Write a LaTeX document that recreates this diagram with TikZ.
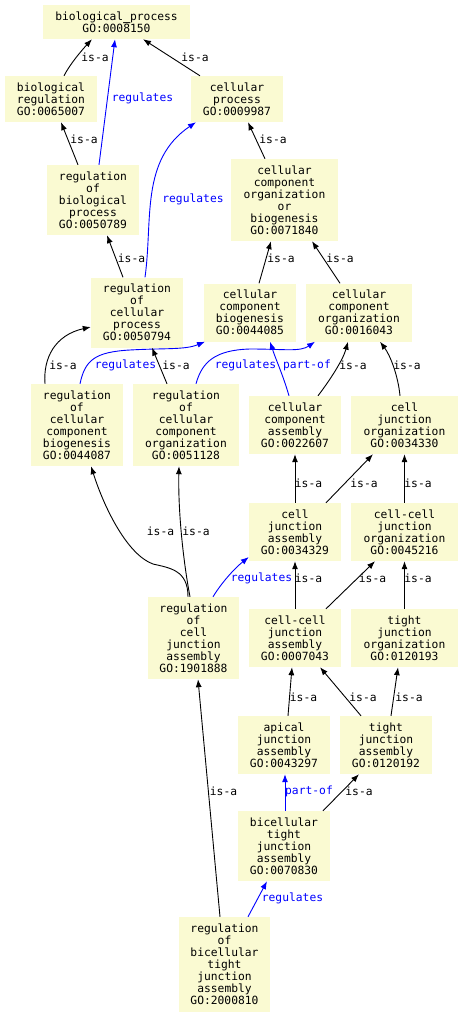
\documentclass[tikz,border=0pt]{standalone}
\usepackage{fontspec}
\newfontfamily\dvm{DejaVu Sans Mono}
\newfontfamily\dvmheavy[FakeBold=3]{DejaVu Sans Mono}
\usetikzlibrary{arrows.meta}
\definecolor{boxfill}{HTML}{FAFAD2}
\definecolor{regblue}{RGB}{0,0,255}
\tikzset{
  gobox/.style={fill=boxfill, inner sep=0pt, align=center, font=\dvm\fontsize{11.3}{12}\selectfont},
  isa/.style={draw=black, line width=0.9pt, -{Latex[length=8pt,width=6pt]}},
  regl/.style={draw=regblue, line width=0.9pt, -{Latex[length=8pt,width=6pt]}},
  lbl/.style={font=\dvm\fontsize{11.3}{12}\selectfont, inner sep=0pt},
  bluelbl/.style={lbl, text=regblue}
}
\begin{document}
\begin{tikzpicture}[x=1pt,y=-1pt]
\useasboundingbox (0,0) rectangle (463,1017);
\fill[white] (0,0) rectangle (463,1017);
% nodes
\node[gobox, minimum width=147pt, minimum height=34pt] (bp) at (116.5,22) {biological{\dvmheavy\symbol{"5F}}process\\GO:0008150};
\node[gobox, minimum width=92pt, minimum height=46pt] (bioreg) at (51,99) {biological\\regulation\\GO:0065007};
\node[gobox, minimum width=92pt, minimum height=46pt] (cellproc) at (237,99) {cellular\\process\\GO:0009987};
\node[gobox, minimum width=92pt, minimum height=70pt] (regbp) at (93,200) {regulation\\of\\biological\\process\\GO:0050789};
\node[gobox, minimum width=107pt, minimum height=82pt] (ccoob) at (284.5,200) {cellular\\component\\organization\\or\\biogenesis\\GO:0071840};
\node[gobox, minimum width=92pt, minimum height=70pt] (regcp) at (137,312.5) {regulation\\of\\cellular\\process\\GO:0050794};
\node[gobox, minimum width=92pt, minimum height=58pt] (ccb) at (250,312.5) {cellular\\component\\biogenesis\\GO:0044085};
\node[gobox, minimum width=106pt, minimum height=58pt] (cco) at (359,312.5) {cellular\\component\\organization\\GO:0016043};
\node[gobox, minimum width=92pt, minimum height=82pt] (regccb) at (77,425) {regulation\\of\\cellular\\component\\biogenesis\\GO:0044087};
\node[gobox, minimum width=106pt, minimum height=82pt] (regcco) at (186,425) {regulation\\of\\cellular\\component\\organization\\GO:0051128};
\node[gobox, minimum width=92pt, minimum height=58pt] (cca) at (295,425) {cellular\\component\\assembly\\GO:0022607};
\node[gobox, minimum width=107pt, minimum height=58pt] (cjo) at (404.5,425) {cell\\junction\\organization\\GO:0034330};
\node[gobox, minimum width=92pt, minimum height=58pt] (cja) at (295,532) {cell\\junction\\assembly\\GO:0034329};
\node[gobox, minimum width=107pt, minimum height=58pt] (ccjo) at (404.5,532) {cell-cell\\junction\\organization\\GO:0045216};
\node[gobox, minimum width=91pt, minimum height=82pt] (regcja) at (193.5,638) {regulation\\of\\cell\\junction\\assembly\\GO:1901888};
\node[gobox, minimum width=92pt, minimum height=58pt] (ccja) at (295,638) {cell-cell\\junction\\assembly\\GO:0007043};
\node[gobox, minimum width=107pt, minimum height=58pt] (tjo) at (404.5,638) {tight\\junction\\organization\\GO:0120193};
\node[gobox, minimum width=92pt, minimum height=58pt] (aja) at (284,745) {apical\\junction\\assembly\\GO:0043297};
\node[gobox, minimum width=92pt, minimum height=58pt] (tja) at (386,745) {tight\\junction\\assembly\\GO:0120192};
\node[gobox, minimum width=92pt, minimum height=70pt] (btja) at (284,846) {bicellular\\tight\\junction\\assembly\\GO:0070830};
\node[gobox, minimum width=91pt, minimum height=95pt] (regbtja) at (224.5,964.5) {regulation\\of\\bicellular\\tight\\junction\\assembly\\GO:2000810};
% edges
\draw[isa] ([xshift=13pt]bioreg.north) .. controls (70,64) and (82,50) .. ([xshift=-24.5pt]bp.south) node[lbl, at={(95,57)}] {is-a};
\draw[regl] ([xshift=6pt]regbp.north) -- ([xshift=-1.5pt]bp.south) node[bluelbl, at={(142.5,98)}] {regulates};
\draw[isa] ([xshift=-37pt]cellproc.north) -- ([xshift=26.5pt]bp.south) node[lbl, at={(195,57)}] {is-a};
\draw[isa] ([xshift=-15pt]regbp.north) -- ([xshift=10pt]bioreg.south) node[lbl, at={(84,139)}] {is-a};
\draw[regl] ([xshift=8pt]regcp.north) .. controls (153,220) and (140,160) .. ([xshift=-41pt]cellproc.south) node[bluelbl, at={(193,199)}] {regulates};
\draw[isa] ([xshift=-19.5pt]ccoob.north) -- ([xshift=11pt]cellproc.south) node[lbl, at={(273,139)}] {is-a};
\draw[isa] ([xshift=-14pt]regcp.north) -- ([xshift=14pt]regbp.south) node[lbl, at={(131.5,258)}] {is-a};
\draw[isa] ([xshift=9pt]ccb.north) -- ([xshift=-13.5pt]ccoob.south) node[lbl, at={(281,258)}] {is-a};
\draw[isa] ([xshift=-19pt]cco.north) -- ([xshift=27.5pt]ccoob.south) node[lbl, at={(340,258)}] {is-a};
\draw[isa] ([xshift=-32pt]regccb.north) .. controls (43,358) and (55,335) .. ([yshift=-14.5pt]regcp.west) node[lbl, at={(63,365)}] {is-a};
\draw[regl] ([xshift=3pt]regccb.north) .. controls (85,360) and (95,352) .. (130,350) .. controls (165,348) and (185,350) .. ([xshift=-45pt]ccb.south) node[bluelbl, at={(125.5,365)}] {regulates};
\draw[isa] ([xshift=-19pt]regcco.north) -- ([xshift=15pt]regcp.south) node[lbl, at={(176,365)}] {is-a};
\draw[regl] ([xshift=10pt]regcco.north) .. controls (202,362) and (215,350) .. (250,349) .. controls (285,349) and (300,352) .. ([xshift=-44pt]cco.south) node[bluelbl, at={(245.5,365)}] {regulates};
\draw[regl] ([xshift=-6pt]cca.north) .. controls (283,375) and (276,360) .. ([xshift=20pt]ccb.south) node[bluelbl, at={(307,365)}] {part-of};
\draw[isa] ([xshift=23pt]cca.north) .. controls (330,380) and (343,360) .. ([xshift=-11pt]cco.south) node[lbl, at={(353,365)}] {is-a};
\draw[isa] ([xshift=-4.5pt]cjo.north) .. controls (398,375) and (390,355) .. ([xshift=21pt]cco.south) node[lbl, at={(407,365)}] {is-a};
\draw[isa] (cja.north) -- (cca.south) node[lbl, at={(308.5,483)}] {is-a};
\draw[isa] ([xshift=31pt]cja.north) -- ([xshift=-31.5pt]cjo.south) node[lbl, at={(364,483)}] {is-a};
\draw[isa] (ccjo.north) -- (cjo.south) node[lbl, at={(418,483)}] {is-a};
\draw[isa] ([xshift=-5.5pt]regcja.north) .. controls (188,570) and (170,568) .. (153,564) .. controls (128,555) and (105,510) .. ([xshift=14pt]regccb.south) node[lbl, at={(160.5,531)}] {is-a};
\draw[isa] ([xshift=-3.5pt]regcja.north) .. controls (183,560) and (178,510) .. ([xshift=-7pt]regcco.south) node[lbl, at={(196,531)}] {is-a};
\draw[regl] ([xshift=19.5pt]regcja.north) .. controls (222,582) and (235,568) .. ([yshift=-25pt]cja.west) node[bluelbl, at={(261.5,578)}] {regulates};
\draw[isa] (ccja.north) -- (cja.south) node[lbl, at={(308.5,578)}] {is-a};
\draw[isa] ([xshift=31pt]ccja.north) -- ([xshift=-29.5pt]ccjo.south) node[lbl, at={(372.5,578)}] {is-a};
\draw[isa] (tjo.north) -- (ccjo.south) node[lbl, at={(418,578)}] {is-a};
\draw[isa] ([xshift=-4.5pt]regbtja.north) -- ([xshift=4.5pt]regcja.south) node[lbl, at={(223.5,791)}] {is-a};
\draw[isa] ([xshift=4pt]aja.north) -- ([xshift=-3pt]ccja.south) node[lbl, at={(303.5,697)}] {is-a};
\draw[isa] ([xshift=-25pt]tja.north) -- ([xshift=25pt]ccja.south) node[lbl, at={(363,697)}] {is-a};
\draw[isa] ([xshift=5pt]tja.north) -- ([xshift=-6.5pt]tjo.south) node[lbl, at={(409,697)}] {is-a};
\draw[regl] ([xshift=1pt]btja.north) -- ([xshift=1pt]aja.south) node[bluelbl, at={(309,791)}] {part-of};
\draw[isa] ([xshift=39pt]btja.north) -- ([xshift=-27pt]tja.south) node[lbl, at={(359,791)}] {is-a};
\draw[regl] ([xshift=23.5pt]regbtja.north) -- ([xshift=-17pt]btja.south) node[bluelbl, at={(292.5,898)}] {regulates};
\end{tikzpicture}
\end{document}
